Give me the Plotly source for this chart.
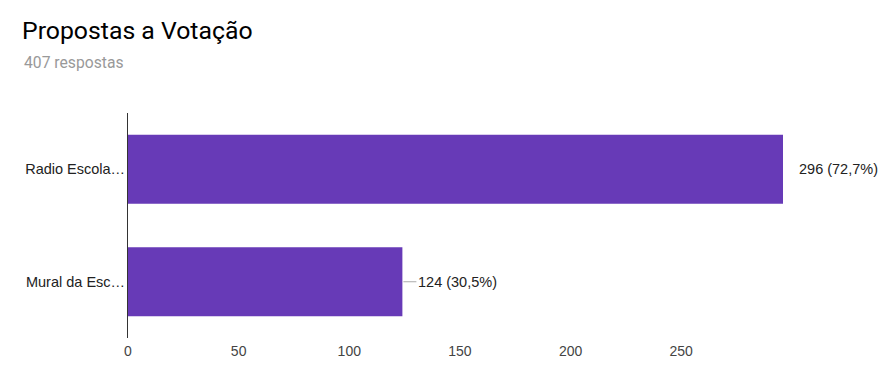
import plotly.graph_objects as go

categories = ["Radio Escola…", "Mural da Esc…"]
values = [296, 124]
labels = ["296 (72,7%)", "124 (30,5%)"]
x_ticks = [0, 50, 100, 150, 200, 250]

BAR = "#673ab7"
# page body has an 8px margin; figure is sized so that the page fits the 894x390 window
W, H = 878, 374
L, R, T, B = 120, 103, 105, 44
PW = W - L - R
PH = H - T - B

fig = go.Figure()
fig.add_trace(go.Bar(
    x=values, y=categories, orientation="h",
    marker=dict(color=BAR, line=dict(width=0)),
    hoverinfo="skip",
))

annotations = []
shapes = []
for c, v, t in zip(categories, values, labels):
    annotations.append(dict(x=v, y=c, xref="x", yref="y", text=t, showarrow=False,
                            xanchor="left", xshift=14,
                            font=dict(family="Liberation Sans, Arial", size=14.5, color="#222")))
    shapes.append(dict(type="line", xref="x", yref="y", xsizemode="pixel", xanchor=v,
                       x0=1, x1=14, y0=c, y1=c, line=dict(color="#aaaaaa", width=1)))

annotations.append(dict(text="407 respostas", xref="paper", yref="paper",
                        x=(14 - L) / PW, y=1 + (T - 55) / PH, xanchor="left", yanchor="middle",
                        showarrow=False,
                        font=dict(family="Roboto", size=15.7, color="#999999")))

fig.update_layout(
    width=W, height=H,
    margin=dict(l=L, r=R, t=T, b=B, pad=0),
    paper_bgcolor="white", plot_bgcolor="white",
    showlegend=False,
    bargap=0.387,
    title=dict(text="Propostas a Votação", x=14 / W, xanchor="left", xref="container",
               y=1 - 22 / H, yref="container", yanchor="middle",
               font=dict(family="Roboto", size=24.8, color="#000000")),
    xaxis=dict(range=[0, 296], tickvals=x_ticks, showgrid=False, zeroline=False,
               showline=False, ticks="", fixedrange=True, ticklabelstandoff=3,
               tickfont=dict(family="Liberation Sans, Arial", size=14, color="#444")),
    yaxis=dict(categoryorder="array", categoryarray=categories, autorange="reversed",
               showgrid=False, zeroline=False, showline=True, linecolor="#333", linewidth=1,
               ticks="", ticklabelstandoff=-1,
               tickfont=dict(family="Liberation Sans, Arial", size=14.5, color="#222")),
    annotations=annotations,
    shapes=shapes,
)

fig.write_html("out.html")
